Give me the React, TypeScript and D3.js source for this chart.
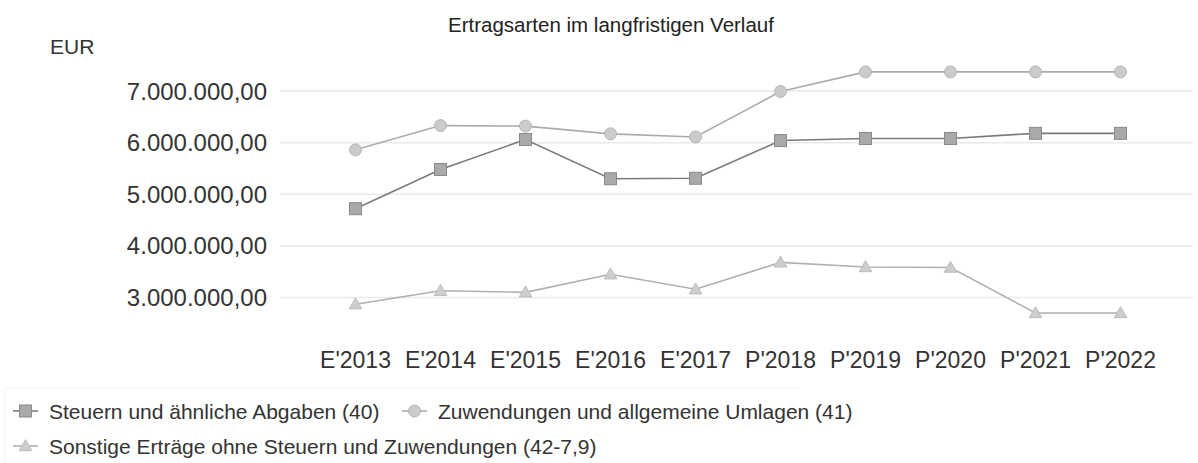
import React from "react";
import * as d3 from "d3";

const categories = ["E'2013", "E'2014", "E'2015", "E'2016", "E'2017", "P'2018", "P'2019", "P'2020", "P'2021", "P'2022"];
const steuern = [4720000, 5480000, 6060000, 5300000, 5310000, 6040000, 6080000, 6080000, 6180000, 6180000];
const zuwendungen = [5860000, 6330000, 6320000, 6170000, 6110000, 6990000, 7370000, 7370000, 7370000, 7370000];
const sonstige = [2870000, 3130000, 3100000, 3450000, 3160000, 3680000, 3590000, 3580000, 2700000, 2700000];
const yTicks = [3000000, 4000000, 5000000, 6000000, 7000000];
const seriesNames = [
  "Steuern und ähnliche Abgaben (40)",
  "Zuwendungen und allgemeine Umlagen (41)",
  "Sonstige Erträge ohne Steuern und Zuwendungen (42-7,9)",
];
const title = "Ertragsarten im langfristigen Verlauf";
const yUnit = "EUR";

const W = 1198;
const H = 463;
const FONT = "'Liberation Sans', Arial, sans-serif";

const locale = d3.formatLocale({ decimal: ",", thousands: ".", grouping: [3], currency: ["", " €"] });
const fmt = locale.format(",.2f");

function Marker({ type, x, y }: { type: string; x: number; y: number }) {
  if (type === "square") {
    return <rect x={x - 6} y={y - 6} width={12} height={12} fill="#a9a9a9" stroke="#8a8a8a" strokeWidth={1} />;
  }
  if (type === "circle") {
    return <circle cx={x} cy={y} r={6} fill="#cbcbcb" stroke="#b5b5b5" strokeWidth={1} />;
  }
  const sym = d3.symbol().type(d3.symbolTriangle).size(70)();
  return <path d={sym || ""} transform={`translate(${x},${y + 1})`} fill="#cdcdcd" stroke="#bdbdbd" strokeWidth={1} />;
}

export default function App() {
  const x = d3.scaleBand<string>().domain(categories).range([313, 1163]);
  const cx = (c: string) => (x(c) as number) + x.bandwidth() / 2;
  const y = d3.scaleLinear().domain([3000000, 7000000]).range([297.5, 91]);

  const series = [
    { name: seriesNames[0], values: steuern, marker: "square", line: "#7a7a7a" },
    { name: seriesNames[1], values: zuwendungen, marker: "circle", line: "#ababab" },
    { name: seriesNames[2], values: sonstige, marker: "triangle", line: "#b0b0b0" },
  ];

  const line = d3
    .line<number>()
    .x((_, i) => cx(categories[i]))
    .y((d) => y(d));

  const legendItems = [
    { s: series[0], lx: 13, ly: 411 },
    { s: series[1], lx: 402, ly: 411 },
    { s: series[2], lx: 13, ly: 446 },
  ];

  return (
    <svg width={W} height={H} style={{ position: "absolute", left: 0, top: 0, background: "#fff" }} fontFamily={FONT}>
      <rect x={0} y={0} width={W} height={H} fill="#fff" />
      <text x={611} y={32} textAnchor="middle" fontSize={20.5} fill="#222">
        {title}
      </text>
      <text x={50} y={54} fontSize={21} fill="#333">
        {yUnit}
      </text>
      {yTicks.map((t) => (
        <g key={t}>
          <line x1={280} x2={1193} y1={y(t)} y2={y(t)} stroke="#e9e9e9" strokeWidth={1.5} />
          <text x={267} y={y(t) + 8.5} textAnchor="end" fontSize={24} fill="#333">
            {fmt(t)}
          </text>
        </g>
      ))}
      {categories.map((c) => (
        <text key={c} x={cx(c)} y={368} textAnchor="middle" fontSize={23} fill="#333">
          {c}
        </text>
      ))}
      {series.map((s) => (
        <g key={s.name}>
          <path d={line(s.values) || ""} fill="none" stroke={s.line} strokeWidth={1.6} />
          {s.values.map((v, i) => (
            <Marker key={i} type={s.marker} x={cx(categories[i])} y={y(v)} />
          ))}
        </g>
      ))}
      <line x1={5} x2={800} y1={388} y2={388} stroke="#f1f1f1" strokeWidth={1} />
      <line x1={5} x2={5} y1={388} y2={463} stroke="#f1f1f1" strokeWidth={1} />
      {legendItems.map(({ s, lx, ly }) => (
        <g key={s.name}>
          <line x1={lx} x2={lx + 25} y1={ly} y2={ly} stroke={s.line} strokeWidth={1.6} />
          <Marker type={s.marker} x={lx + 12.5} y={ly} />
          <text x={lx + 36} y={ly + 7.5} fontSize={21} fill="#333">
            {s.name}
          </text>
        </g>
      ))}
    </svg>
  );
}
